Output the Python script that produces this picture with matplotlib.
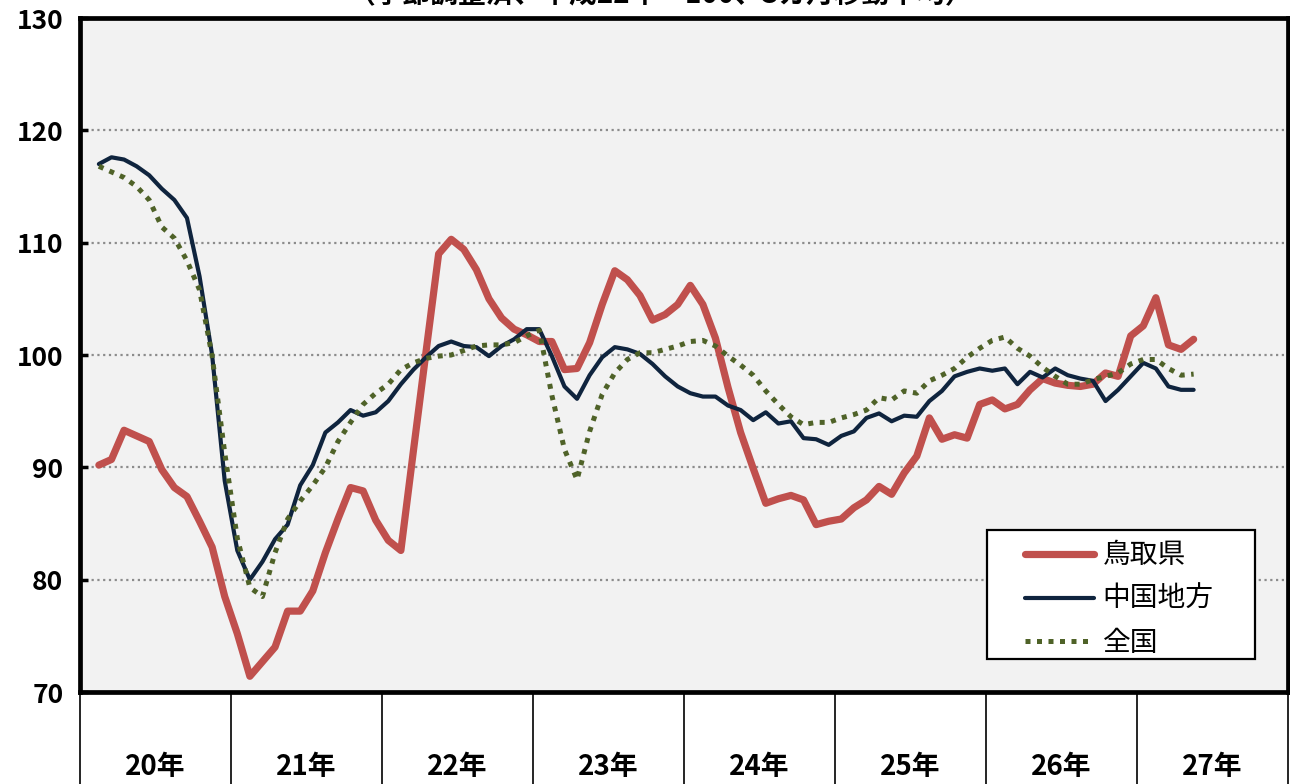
import numpy as np
import matplotlib
matplotlib.use('Agg')
import matplotlib.pyplot as plt
from matplotlib.patches import Rectangle

plt.rcParams['font.family'] = ['Noto Sans CJK JP', 'DejaVu Sans']

# ---------------- data ----------------
title = '（季節調整済、平成22年＝100、3カ月移動平均）'
years = ['20年', '21年', '22年', '23年', '24年', '25年', '26年', '27年']
series_names = ['鳥取県', '中国地方', '全国']
start_month = 1  # first value: February of 20年 (0-based month index)

tottori = [90.2, 90.7, 93.3, 92.8, 92.3, 89.8, 88.2, 87.4, 85.2, 82.9, 78.5,
           75.2, 71.4, 72.7, 74.0, 77.2, 77.2, 79.0, 82.4, 85.4, 88.2, 87.9, 85.3,
           83.5, 82.6, 91.5, 100.3, 109.0, 110.3, 109.4, 107.6, 105.0, 103.3, 102.3, 101.8,
           101.2, 101.2, 98.7, 98.8, 101.1, 104.5, 107.5, 106.7, 105.3, 103.1, 103.6, 104.5,
           106.2, 104.5, 101.5, 97.1, 93.1, 89.9, 86.8, 87.2, 87.5, 87.1, 84.9, 85.2,
           85.4, 86.4, 87.1, 88.3, 87.6, 89.5, 91.0, 94.4, 92.5, 92.9, 92.6, 95.6,
           96.0, 95.2, 95.6, 96.9, 97.9, 97.5, 97.3, 97.2, 97.4, 98.4, 98.1, 101.7,
           102.6, 105.1, 100.9, 100.5, 101.4]

chugoku = [117.0, 117.6, 117.4, 116.8, 116.0, 114.8, 113.8, 112.2, 107.0, 100.0, 88.8,
           82.6, 80.0, 81.6, 83.6, 84.9, 88.4, 90.2, 93.1, 94.0, 95.1, 94.6, 94.9,
           95.9, 97.4, 98.7, 99.8, 100.8, 101.2, 100.8, 100.7, 99.9, 100.8, 101.4, 102.3,
           102.3, 99.9, 97.2, 96.1, 98.2, 99.8, 100.7, 100.5, 100.1, 99.2, 98.1, 97.2,
           96.6, 96.3, 96.3, 95.5, 95.1, 94.2, 94.9, 93.9, 94.1, 92.6, 92.5, 92.0,
           92.8, 93.2, 94.4, 94.8, 94.1, 94.6, 94.5, 95.9, 96.8, 98.1, 98.5, 98.8,
           98.6, 98.8, 97.4, 98.5, 98.0, 98.8, 98.2, 97.9, 97.7, 95.9, 96.9, 98.1,
           99.3, 98.8, 97.2, 96.9, 96.9]

zenkoku = [116.8, 116.3, 115.8, 115.0, 113.8, 111.4, 110.4, 108.4, 105.8, 99.9, 91.3,
           83.7, 79.3, 78.5, 82.4, 85.4, 87.0, 88.4, 90.0, 92.3, 94.0, 95.6, 96.6,
           97.4, 98.7, 99.3, 99.7, 99.9, 100.0, 100.4, 100.8, 100.9, 100.9, 101.1, 101.7,
           102.2, 96.4, 91.6, 88.9, 93.2, 96.5, 98.4, 99.6, 100.2, 100.2, 100.5, 100.8,
           101.2, 101.3, 100.8, 99.9, 99.1, 98.2, 96.8, 95.6, 94.5, 93.8, 94.0, 94.0,
           94.4, 94.7, 95.1, 96.2, 96.0, 96.8, 96.6, 97.7, 98.2, 98.8, 99.8, 100.6,
           101.3, 101.6, 100.6, 99.9, 98.9, 98.1, 97.4, 97.4, 97.8, 98.1, 98.4, 99.2,
           99.6, 99.6, 98.8, 98.2, 98.3]

yticks = [70, 80, 90, 100, 110, 120, 130]

# ---------------- figure ----------------
W, H = 1290, 784
fig = plt.figure(figsize=(W / 100, H / 100), dpi=100)
fig.patch.set_facecolor('white')
ax = fig.add_axes([80 / W, 1 - 692 / H, 1208 / W, 674 / H])
ax.set_facecolor('#F2F2F2')

n_months = 12 * len(years)
x = start_month + np.arange(len(tottori)) + 0.5

ax.plot(x, tottori, color='#C0504D', lw=5.2, solid_capstyle='round',
        solid_joinstyle='round', label=series_names[0], zorder=3)
ax.plot(x, chugoku, color='#0F243E', lw=3.0, solid_capstyle='round',
        solid_joinstyle='round', label=series_names[1], zorder=4)
ax.plot(x, zenkoku, color='#4F6228', lw=3.6, linestyle=(0, (1, 1.3)),
        dash_capstyle='butt', label=series_names[2], zorder=5)

ax.set_xlim(0, n_months)
ax.set_ylim(yticks[0], yticks[-1])

# y axis
ax.set_yticks(yticks)
ax.set_yticklabels([str(v) for v in yticks], fontsize=19, fontweight='bold')
ax.tick_params(axis='y', direction='in', length=6, width=2.5, pad=12, color='black')
for v in yticks[1:-1]:
    ax.axhline(v, color='#8C8C8C', lw=1.6, linestyle=(0, (1, 1.6)), zorder=1)

# x axis: long separators at year boundaries, labels centred in each year
ax.set_xticks(np.arange(0, n_months + 1, 12))
ax.set_xticklabels([])
ax.tick_params(axis='x', which='major', direction='out', length=66, width=1.2,
               color='black')
ax.set_xticks(np.arange(6, n_months, 12), minor=True)
ax.set_xticklabels(years, minor=True, fontsize=20, fontweight='bold')
ax.tick_params(axis='x', which='minor', length=0, pad=44)

for s in ax.spines.values():
    s.set_linewidth(3.4)
    s.set_color('black')
    s.set_zorder(10)

# legend box
ax.add_patch(Rectangle((0.7508, 0.049), 0.2219, 0.1914, transform=ax.transAxes,
                       facecolor='white', edgecolor='black', lw=1.6, zorder=7))
leg = ax.legend(loc='upper left', bbox_to_anchor=(0.7823, 0.225), frameon=False,
                fontsize=20, handlelength=2.5, handletextpad=0.3,
                labelspacing=0.5, borderpad=0, borderaxespad=0)
leg.set_zorder(8)

fig.text(660 / W, 1 - 9 / H, title, ha='center', va='bottom', fontsize=20,
         fontweight='bold')

fig.savefig('out.png', dpi=100, facecolor='white')
